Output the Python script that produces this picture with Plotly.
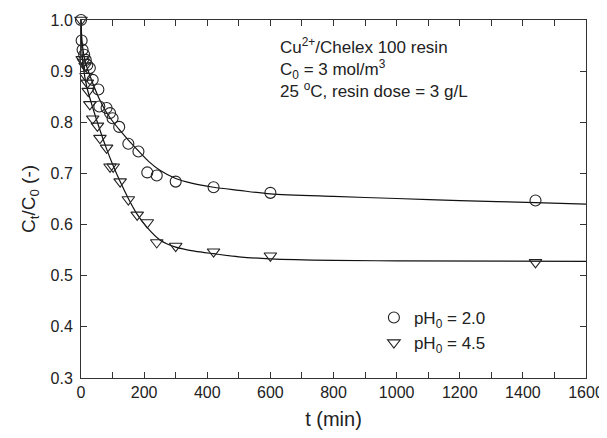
import plotly.graph_objects as go

t_ph2 = [0, 2, 5, 10, 15, 20, 28, 37, 55, 58, 81, 92, 100, 121, 150, 182, 210, 240, 300, 420, 600, 1440]
c_ph2 = [1.000, 0.960, 0.942, 0.932, 0.922, 0.912, 0.906, 0.883, 0.864, 0.831, 0.828, 0.818, 0.808, 0.791, 0.758, 0.743, 0.702, 0.696, 0.684, 0.673, 0.662, 0.647]

t_ph45 = [0, 4, 8, 13, 16, 20, 23, 28, 37, 52, 60, 81, 92, 102, 124, 150, 178, 210, 240, 300, 420, 600, 1440]
c_ph45 = [1.000, 0.923, 0.918, 0.910, 0.890, 0.877, 0.861, 0.835, 0.807, 0.793, 0.769, 0.750, 0.713, 0.713, 0.684, 0.649, 0.619, 0.604, 0.565, 0.558, 0.547, 0.539, 0.526]

# Fitted model curves
fit_t_ph2 = [0, 3, 8, 15, 25, 40, 60, 80, 100, 125, 150, 185, 215, 250, 300, 350, 420, 500, 600, 800, 1000, 1200, 1440, 1600]
fit_c_ph2 = [1.000, 0.960, 0.935, 0.915, 0.897, 0.872, 0.843, 0.820, 0.802, 0.783, 0.765, 0.742, 0.723, 0.706, 0.690, 0.681, 0.673, 0.667, 0.660, 0.655, 0.651, 0.647, 0.643, 0.640]

fit_t_ph45 = [0, 3, 8, 18, 39, 60, 81, 100, 124, 150, 176, 210, 250, 300, 360, 420, 500, 600, 800, 1000, 1600]
fit_c_ph45 = [1.000, 0.940, 0.905, 0.870, 0.825, 0.785, 0.748, 0.718, 0.684, 0.651, 0.622, 0.594, 0.570, 0.556, 0.548, 0.543, 0.537, 0.533, 0.530, 0.529, 0.528]

x_ticks = [0, 200, 400, 600, 800, 1000, 1200, 1400, 1600]
y_ticks = [0.3, 0.4, 0.5, 0.6, 0.7, 0.8, 0.9, 1.0]

FONT = "Liberation Sans, Arial, Helvetica, sans-serif"
INK = "#222222"

fig = go.Figure()

fig.add_trace(go.Scatter(x=fit_t_ph2, y=fit_c_ph2, mode="lines",
                         line=dict(color="#111111", width=1.2, shape="spline", smoothing=0.8),
                         showlegend=False, hoverinfo="skip"))
fig.add_trace(go.Scatter(x=fit_t_ph45, y=fit_c_ph45, mode="lines",
                         line=dict(color="#111111", width=1.2, shape="spline", smoothing=0.8),
                         showlegend=False, hoverinfo="skip"))

fig.add_trace(go.Scatter(x=t_ph2, y=c_ph2, mode="markers", name="pH<sub>0</sub> = 2.0",
                         cliponaxis=False,
                         marker=dict(symbol="circle-open", size=11, color="#222222",
                                     line=dict(width=1.1, color="#222222"))))
fig.add_trace(go.Scatter(x=t_ph45, y=c_ph45, mode="markers", name="pH<sub>0</sub> = 4.5",
                         cliponaxis=False,
                         marker=dict(symbol="triangle-down-open", size=11, color="#222222",
                                     line=dict(width=1.1, color="#222222"))))

axis_common = dict(showline=True, linecolor="#333333", linewidth=1, mirror="ticks",
                   ticks="inside", ticklen=6, tickcolor="#333333", tickwidth=1,
                   showgrid=False, zeroline=False, automargin=False,
                   tickfont=dict(family=FONT, size=16, color=INK))

fig.update_xaxes(range=[0, 1600], tickvals=x_ticks,
                 minor=dict(dtick=100, ticks="inside", ticklen=6, tickcolor="#333333", showgrid=False),
                 title=dict(text="t (min)", font=dict(family=FONT, size=20, color=INK), standoff=13),
                 **axis_common)
fig.update_yaxes(range=[0.3, 1.0], tickvals=y_ticks, tickformat=".1f", ticklabelstandoff=4,
                 title=dict(text="C<sub>t</sub>/C<sub>0</sub> (-)", font=dict(family=FONT, size=19, color=INK), standoff=9),
                 **axis_common)

fig.add_annotation(xref="paper", yref="paper", x=0.39, y=0.965, xanchor="left", yanchor="top",
                   align="left", showarrow=False,
                   text="Cu<sup>2+</sup>/Chelex 100 resin<br>C<sub>0</sub> = 3 mol/m<sup>3</sup><br>25 <sup>o</sup>C, resin dose = 3 g/L",
                   font=dict(family=FONT, size=17, color=INK))

# The page body adds an 8 px offset; the figure is sized/margined to compensate.
fig.update_layout(
    width=599, height=422,
    margin=dict(l=73, r=21, t=12, b=52, autoexpand=False),
    paper_bgcolor="white", plot_bgcolor="white",
    font=dict(family=FONT, color=INK),
    legend=dict(x=0.58, y=0.218, xanchor="left", yanchor="top",
                bgcolor="rgba(0,0,0,0)", font=dict(family=FONT, size=17, color=INK),
                itemwidth=30, tracegroupgap=0),
)

fig.write_html("out.html")
